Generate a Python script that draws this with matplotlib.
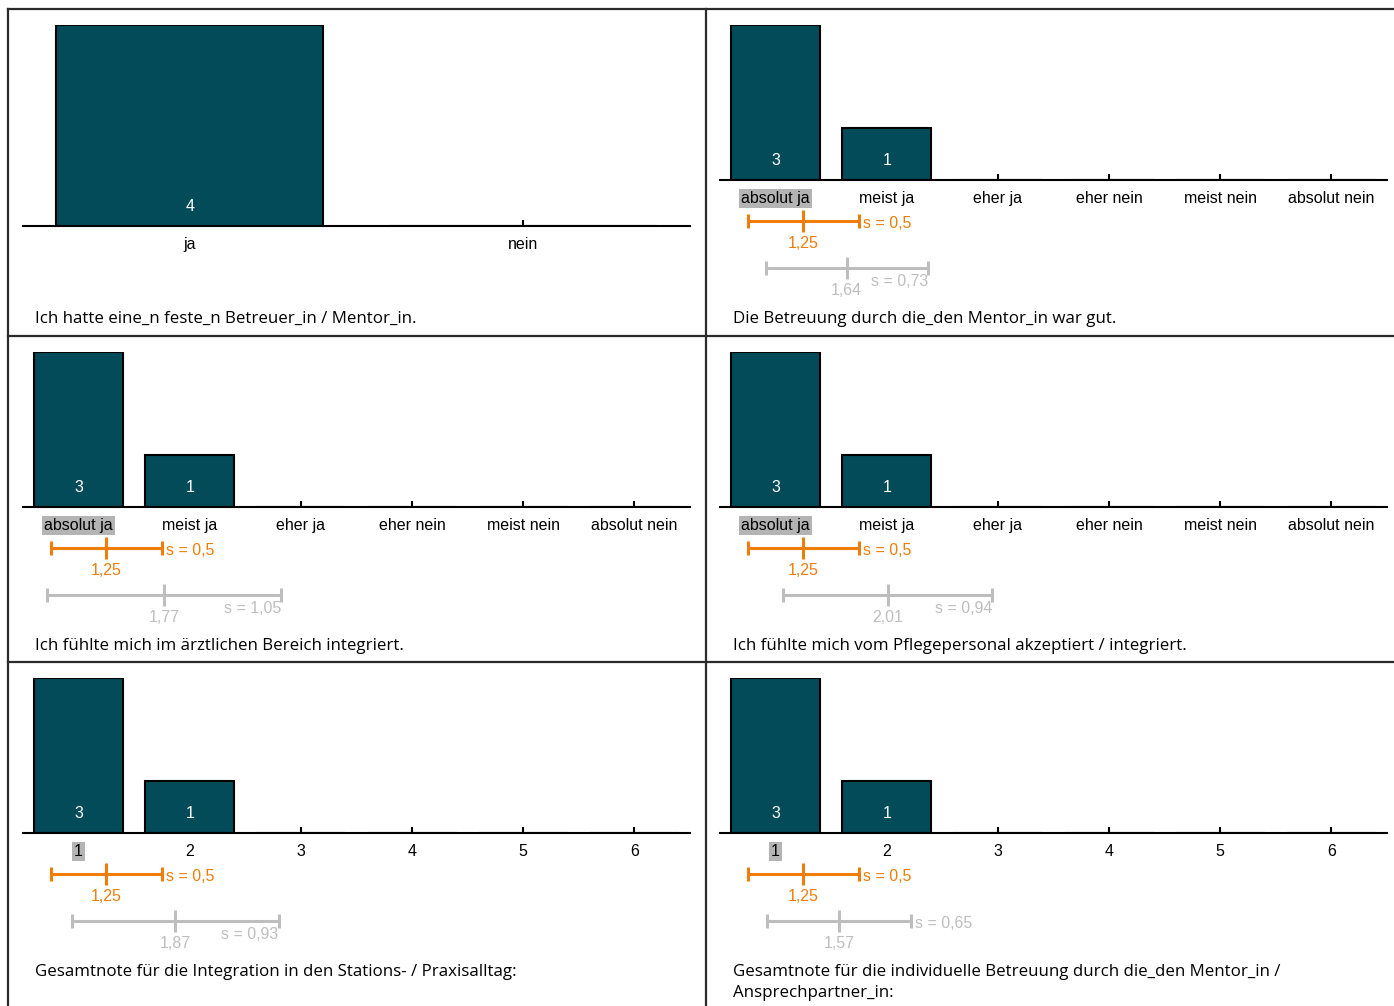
import matplotlib
matplotlib.use("Agg")
import matplotlib.pyplot as plt
from matplotlib.lines import Line2D

# Data
scale_words = ['absolut ja', 'meist ja', 'eher ja', 'eher nein', 'meist nein', 'absolut nein']
grades = ['1', '2', '3', '4', '5', '6']
yes_no = ['ja', 'nein']

titles = [
    'Ich hatte eine_n feste_n Betreuer_in / Mentor_in.',
    'Die Betreuung durch die_den Mentor_in war gut.',
    'Ich fühlte mich im ärztlichen Bereich integriert.',
    'Ich fühlte mich vom Pflegepersonal akzeptiert / integriert.',
    'Gesamtnote für die Integration in den Stations- / Praxisalltag:',
    'Gesamtnote für die individuelle Betreuung durch die_den Mentor_in /\nAnsprechpartner_in:',
]
categories = [yes_no, scale_words, scale_words, scale_words, grades, grades]
counts = [
    [4, 0],
    [3, 1, 0, 0, 0, 0],
    [3, 1, 0, 0, 0, 0],
    [3, 1, 0, 0, 0, 0],
    [3, 1, 0, 0, 0, 0],
    [3, 1, 0, 0, 0, 0],
]
mean_own = [None, 1.25, 1.25, 1.25, 1.25, 1.25]
sd_own = [None, 0.5, 0.5, 0.5, 0.5, 0.5]
mean_ref = [None, 1.64, 1.77, 2.01, 1.87, 1.57]
sd_ref = [None, 0.73, 1.05, 0.94, 0.93, 0.65]
highlight = [None, 0, 0, 0, 0, 0]

# Styles
BAR = '#034B59'
ORANGE = '#F07D0A'
GREY = '#BEBEBE'
BORDER = '#2b2b2b'
LABEL_FONT = ['Liberation Sans', 'DejaVu Sans']
TITLE_FONT = ['Open Sans', 'DejaVu Sans']
sref_pos = [None, 'below', 'below', 'below', 'below', 'right']

W, H = 1394, 1006
fig = plt.figure(figsize=(W / 100, H / 100), dpi=100)


def fx(px):
    return px / W


def fy(py):
    return 1 - py / H


def fmt(v):
    return f"{v:g}".replace('.', ',')


# panel frame lines
def hline(y, x0, x1):
    fig.add_artist(Line2D([fx(x0), fx(x1)], [fy(y), fy(y)], color=BORDER, lw=1.6))


def vline(x, y0, y1):
    fig.add_artist(Line2D([fx(x), fx(x)], [fy(y0), fy(y1)], color=BORDER, lw=1.6))


for y in [9, 336, 662]:
    hline(y, 8, W)
vline(8, 9, H)
vline(706, 9, H)

col_left = [8, 706]
row_top = [9, 336, 662]

for i in range(6):
    r, c = divmod(i, 2)
    px0 = col_left[c] + (15 if c == 0 else 14)
    px1 = px0 + 667
    ptop = row_top[r]
    n = len(categories[i])
    if n == 2:
        bar_top, base = ptop + 16, ptop + 217
    else:
        bar_top, base = ptop + 16, ptop + 171

    ax = fig.add_axes([fx(px0), fy(base), fx(px1) - fx(px0), (base - bar_top) / H])
    xs = list(range(1, n + 1))
    ax.bar(xs, counts[i], width=0.8, color=BAR, edgecolor='black', linewidth=1.5, zorder=2)
    ax.set_xlim(0.5, n + 0.5)
    ax.set_ylim(0, max(counts[i]))
    for s in ['top', 'left', 'right']:
        ax.spines[s].set_visible(False)
    ax.spines['bottom'].set_linewidth(1.5)
    ax.spines['bottom'].set_zorder(3)
    ax.set_yticks([])
    ax.set_xticks(xs)
    ax.set_xticklabels(categories[i], fontsize=11.5, family=LABEL_FONT)
    ax.tick_params(axis='x', direction='in', length=4, width=1.5, pad=8)
    ax.patch.set_alpha(0)
    for x, v in zip(xs, counts[i]):
        if v > 0:
            ax.annotate(str(v), (x, 0), xytext=(0, 14), textcoords='offset points',
                        ha='center', va='center', color='white', fontsize=11.5,
                        family=LABEL_FONT)
    if highlight[i] is not None:
        lab = ax.get_xticklabels()[highlight[i]]
        lab.set_bbox(dict(facecolor='#B4B4B4', edgecolor='none', pad=1.5))

    # title
    fig.text(fx(col_left[c] + 27), fy(ptop + 302), titles[i], ha='left', va='top',
             fontsize=12.2, family=TITLE_FONT, linespacing=1.42)

    if mean_own[i] is None:
        continue

    # error bar axes below the bars, y in pixels from baseline
    eax = fig.add_axes([fx(px0), fy(base + 130), fx(px1) - fx(px0), 130 / H], sharex=ax)
    eax.set_ylim(130, 0)
    eax.axis('off')

    for m, sd, yy, col in [(mean_own[i], sd_own[i], 41, ORANGE), (mean_ref[i], sd_ref[i], 88, GREY)]:
        eax.errorbar(m, yy, xerr=sd, fmt='none', ecolor=col, elinewidth=2.2,
                     capsize=5, capthick=2.2)
        eax.plot(m, yy, marker='|', markersize=16, mew=2.2, color=col)

    # own labels
    eax.annotate(fmt(mean_own[i]), (mean_own[i], 41), xytext=(0, -16.5), textcoords='offset points',
                 ha='center', va='center', color=ORANGE, fontsize=11.5, family=LABEL_FONT)
    eax.annotate('s = ' + fmt(sd_own[i]), (mean_own[i] + sd_own[i], 41), xytext=(3, -2),
                 textcoords='offset points', ha='left', va='center', color=ORANGE,
                 fontsize=11.5, family=LABEL_FONT)
    # reference labels
    eax.annotate(fmt(mean_ref[i]), (mean_ref[i], 88), xytext=(0, -16.5), textcoords='offset points',
                 ha='center', va='center', color=GREY, fontsize=11.5, family=LABEL_FONT)
    if sref_pos[i] == 'right':
        eax.annotate('s = ' + fmt(sd_ref[i]), (mean_ref[i] + sd_ref[i], 88), xytext=(3, -2),
                     textcoords='offset points', ha='left', va='center', color=GREY,
                     fontsize=11.5, family=LABEL_FONT)
    else:
        eax.annotate('s = ' + fmt(sd_ref[i]), (mean_ref[i] + sd_ref[i], 88), xytext=(0, -9.5),
                     textcoords='offset points', ha='right', va='center', color=GREY,
                     fontsize=11.5, family=LABEL_FONT)

fig.savefig('out.png', dpi=100)
